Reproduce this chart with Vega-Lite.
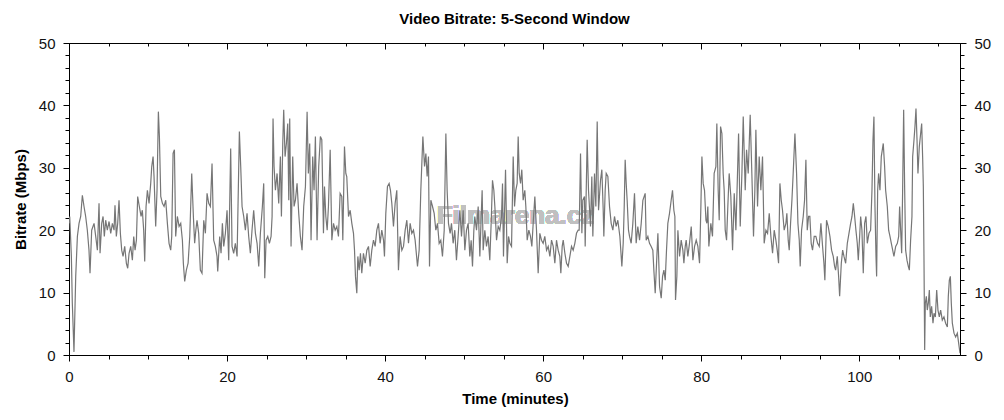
{
  "$schema": "https://vega.github.io/schema/vega-lite/v6.json",
  "width": 891,
  "height": 312,
  "autosize": "none",
  "padding": {"left": 69, "top": 43, "right": 44, "bottom": 65},
  "background": "white",
  "title": {"text": "Video Bitrate: 5-Second Window", "font": "Liberation Sans", "fontSize": 15, "fontWeight": "bold", "color": "#000000", "anchor": "middle", "offset": 9},
  "config": {
    "view": {"stroke": "#000000", "strokeWidth": 1},
    "axis": {"labelFont": "Liberation Sans", "titleFont": "Liberation Sans", "labelFontSize": 15, "titleFontSize": 15, "titleFontWeight": "bold", "labelColor": "#111111", "titleColor": "#000000", "tickColor": "#000000", "domainColor": "#000000", "grid": false}
  },
  "datasets": {
    "rate": [
      {"t":0,"b":21.1},{"t":0.09,"b":22.2},{"t":0.3,"b":15.8},{"t":0.42,"b":8.3},{"t":0.63,"b":0.5},{"t":0.85,"b":12.6},{"t":1.06,"b":19.0},{"t":1.27,"b":21.1},{"t":1.48,"b":22.2},{"t":1.69,"b":25.6},{"t":1.9,"b":23.8},{"t":2.11,"b":22.2},{"t":2.32,"b":20.0},{"t":2.53,"b":16.8},{"t":2.66,"b":13.1},{"t":2.87,"b":20.0},{"t":3.17,"b":21.1},{"t":3.38,"b":19.0},{"t":3.59,"b":16.8},{"t":3.8,"b":24.3},{"t":3.93,"b":16.3},{"t":4.14,"b":21.1},{"t":4.31,"b":22.2},{"t":4.47,"b":19.0},{"t":4.64,"b":21.6},{"t":4.85,"b":20.0},{"t":5.07,"b":21.4},{"t":5.28,"b":19.5},{"t":5.49,"b":21.1},{"t":5.7,"b":20.0},{"t":5.82,"b":24.0},{"t":5.99,"b":19.0},{"t":6.16,"b":21.1},{"t":6.33,"b":24.8},{"t":6.5,"b":19.5},{"t":6.67,"b":16.8},{"t":6.84,"b":15.8},{"t":7.05,"b":17.4},{"t":7.26,"b":14.7},{"t":7.43,"b":13.9},{"t":7.6,"b":16.3},{"t":7.81,"b":17.4},{"t":8.02,"b":15.2},{"t":8.19,"b":19.0},{"t":8.36,"b":16.8},{"t":8.53,"b":18.4},{"t":8.69,"b":25.4},{"t":8.9,"b":23.8},{"t":9.12,"b":22.2},{"t":9.28,"b":23.2},{"t":9.45,"b":20.0},{"t":9.58,"b":15.0},{"t":9.75,"b":23.8},{"t":9.92,"b":26.4},{"t":10.13,"b":24.3},{"t":10.34,"b":27.5},{"t":10.47,"b":30.2},{"t":10.64,"b":31.8},{"t":10.76,"b":28.6},{"t":10.97,"b":20.6},{"t":11.14,"b":26.4},{"t":11.31,"b":39.0},{"t":11.44,"b":35.0},{"t":11.61,"b":25.4},{"t":11.82,"b":24.3},{"t":12.03,"b":23.8},{"t":12.24,"b":24.8},{"t":12.45,"b":21.1},{"t":12.66,"b":17.9},{"t":12.87,"b":16.8},{"t":13.0,"b":19.0},{"t":13.17,"b":32.3},{"t":13.34,"b":32.9},{"t":13.5,"b":19.0},{"t":13.71,"b":22.2},{"t":13.93,"b":20.6},{"t":14.14,"b":21.1},{"t":14.35,"b":18.4},{"t":14.47,"b":14.7},{"t":14.64,"b":11.8},{"t":14.85,"b":13.6},{"t":15.07,"b":14.7},{"t":15.28,"b":19.0},{"t":15.53,"b":29.1},{"t":15.74,"b":22.2},
      {"t":15.9,"b":17.9},{"t":16.05,"b":20.0},{"t":16.2,"b":21.6},{"t":16.41,"b":19.5},{"t":16.62,"b":13.6},{"t":16.83,"b":13.1},{"t":17.05,"b":21.6},{"t":17.26,"b":19.5},{"t":17.47,"b":25.9},{"t":17.68,"b":24.3},{"t":17.89,"b":23.8},{"t":18.1,"b":30.7},{"t":18.31,"b":18.4},{"t":18.52,"b":17.4},{"t":18.73,"b":15.8},{"t":18.82,"b":13.4},{"t":19.07,"b":19.0},{"t":19.24,"b":16.3},{"t":19.41,"b":21.1},{"t":19.58,"b":17.4},{"t":19.79,"b":19.5},{"t":20.0,"b":23.2},{"t":20.21,"b":15.2},{"t":20.46,"b":33.1},{"t":20.63,"b":17.4},{"t":20.84,"b":16.3},{"t":21.05,"b":17.9},{"t":21.27,"b":15.8},{"t":21.56,"b":35.8},{"t":21.73,"b":30.2},{"t":21.9,"b":23.8},{"t":22.11,"b":22.2},{"t":22.32,"b":20.0},{"t":22.53,"b":22.7},{"t":22.74,"b":19.0},{"t":22.95,"b":16.3},{"t":23.16,"b":20.0},{"t":23.37,"b":23.2},{"t":23.59,"b":19.5},{"t":23.8,"b":17.9},{"t":24.01,"b":14.2},{"t":24.22,"b":19.5},{"t":24.47,"b":23.8},{"t":24.64,"b":27.5},{"t":24.77,"b":12.3},{"t":24.94,"b":18.4},{"t":25.15,"b":19.0},{"t":25.36,"b":17.9},{"t":25.57,"b":19.0},{"t":25.7,"b":22.2},{"t":25.82,"b":37.9},{"t":25.95,"b":30.2},{"t":26.12,"b":26.4},{"t":26.33,"b":29.1},{"t":26.54,"b":24.3},{"t":26.75,"b":31.8},{"t":26.88,"b":22.2},{"t":27.05,"b":33.9},{"t":27.17,"b":39.3},{"t":27.34,"b":31.8},{"t":27.51,"b":33.9},{"t":27.68,"b":37.1},{"t":27.81,"b":24.8},{"t":27.93,"b":37.9},{"t":28.1,"b":17.4},{"t":28.31,"b":31.8},{"t":28.48,"b":23.8},{"t":28.65,"b":24.8},{"t":28.86,"b":27.5},{"t":29.07,"b":22.7},{"t":29.28,"b":19.0},{"t":29.49,"b":16.8},{"t":29.7,"b":23.8},{"t":29.92,"b":27.0},{"t":30.13,"b":39.0},{"t":30.29,"b":29.1},{"t":30.46,"b":33.9},{"t":30.63,"b":18.4},{"t":30.84,"b":31.8},{"t":31.01,"b":26.4},{"t":31.18,"b":35.0},{"t":31.39,"b":18.4},{"t":31.6,"b":30.2},{"t":31.81,"b":35.0},{"t":31.99,"b":34.5},
      {"t":32.2,"b":19.5},{"t":32.33,"b":27.0},{"t":32.5,"b":22.2},{"t":32.67,"b":20.0},{"t":32.83,"b":23.8},{"t":33.05,"b":32.9},{"t":33.26,"b":18.4},{"t":33.47,"b":21.1},{"t":33.68,"b":20.0},{"t":33.89,"b":20.6},{"t":34.1,"b":19.0},{"t":34.31,"b":25.9},{"t":34.52,"b":25.4},{"t":34.65,"b":18.4},{"t":34.86,"b":33.4},{"t":35.03,"b":29.1},{"t":35.15,"b":28.6},{"t":35.37,"b":22.2},{"t":35.58,"b":23.2},{"t":35.79,"b":21.1},{"t":36.0,"b":19.5},{"t":36.13,"b":16.8},{"t":36.25,"b":12.6},{"t":36.42,"b":9.9},{"t":36.55,"b":15.8},{"t":36.72,"b":13.6},{"t":36.88,"b":16.3},{"t":37.05,"b":13.1},{"t":37.26,"b":16.3},{"t":37.48,"b":14.7},{"t":37.69,"b":16.8},{"t":37.9,"b":17.4},{"t":38.11,"b":14.2},{"t":38.32,"b":16.8},{"t":38.53,"b":18.4},{"t":38.74,"b":17.4},{"t":38.95,"b":20.0},{"t":39.16,"b":21.1},{"t":39.37,"b":17.9},{"t":39.58,"b":20.0},{"t":39.8,"b":18.4},{"t":39.92,"b":15.8},{"t":40.09,"b":22.7},{"t":40.3,"b":27.0},{"t":40.51,"b":27.5},{"t":40.68,"b":26.4},{"t":40.85,"b":24.3},{"t":41.06,"b":20.6},{"t":41.27,"b":24.3},{"t":41.48,"b":26.4},{"t":41.69,"b":13.6},{"t":41.9,"b":19.0},{"t":42.12,"b":16.8},{"t":42.33,"b":17.4},{"t":42.54,"b":20.0},{"t":42.75,"b":21.6},{"t":42.96,"b":17.9},{"t":43.17,"b":21.1},{"t":43.38,"b":19.5},{"t":43.59,"b":20.0},{"t":43.8,"b":18.4},{"t":44.1,"b":14.2},{"t":44.31,"b":16.8},{"t":44.52,"b":26.4},{"t":44.78,"b":35.0},{"t":44.99,"b":30.2},{"t":45.16,"b":32.3},{"t":45.32,"b":28.6},{"t":45.49,"b":31.8},{"t":45.62,"b":14.2},{"t":45.79,"b":24.8},{"t":46.0,"b":23.8},{"t":46.21,"b":22.7},{"t":46.42,"b":20.0},{"t":46.63,"b":21.1},{"t":46.84,"b":17.9},{"t":47.05,"b":18.4},{"t":47.26,"b":15.8},{"t":47.48,"b":20.0},{"t":47.69,"b":35.5},{"t":47.85,"b":26.4},{"t":48.02,"b":21.1},{"t":48.23,"b":19.5},
      {"t":48.4,"b":21.1},{"t":48.61,"b":17.9},{"t":48.82,"b":20.0},{"t":49.03,"b":15.2},{"t":49.24,"b":19.0},{"t":49.46,"b":23.2},{"t":49.67,"b":19.0},{"t":49.88,"b":23.2},{"t":50.09,"b":16.8},{"t":50.3,"b":20.0},{"t":50.51,"b":21.1},{"t":50.72,"b":15.8},{"t":50.89,"b":18.4},{"t":51.06,"b":14.2},{"t":51.23,"b":20.0},{"t":51.35,"b":22.2},{"t":51.57,"b":20.0},{"t":51.78,"b":23.8},{"t":51.99,"b":15.8},{"t":52.16,"b":22.2},{"t":52.28,"b":26.4},{"t":52.41,"b":16.8},{"t":52.62,"b":20.0},{"t":52.83,"b":17.4},{"t":53.04,"b":19.0},{"t":53.25,"b":15.2},{"t":53.42,"b":21.1},{"t":53.59,"b":28.0},{"t":53.76,"b":26.4},{"t":53.89,"b":23.8},{"t":54.1,"b":18.4},{"t":54.31,"b":20.6},{"t":54.52,"b":20.0},{"t":54.73,"b":22.2},{"t":54.86,"b":27.5},{"t":54.98,"b":15.8},{"t":55.24,"b":29.7},{"t":55.45,"b":14.7},{"t":55.62,"b":19.0},{"t":55.79,"b":17.9},{"t":56.0,"b":17.4},{"t":56.21,"b":31.8},{"t":56.38,"b":23.8},{"t":56.54,"b":26.4},{"t":56.71,"b":27.5},{"t":56.84,"b":35.0},{"t":56.97,"b":29.1},{"t":57.14,"b":27.5},{"t":57.3,"b":29.7},{"t":57.47,"b":24.8},{"t":57.68,"b":26.4},{"t":57.81,"b":23.8},{"t":57.98,"b":18.4},{"t":58.19,"b":20.0},{"t":58.4,"b":19.0},{"t":58.57,"b":17.4},{"t":58.74,"b":21.1},{"t":58.95,"b":25.4},{"t":59.16,"b":20.0},{"t":59.37,"b":13.1},{"t":59.58,"b":19.5},{"t":59.79,"b":18.4},{"t":60.0,"b":17.9},{"t":60.21,"b":19.0},{"t":60.43,"b":16.8},{"t":60.64,"b":17.4},{"t":60.85,"b":15.8},{"t":61.06,"b":18.4},{"t":61.27,"b":17.4},{"t":61.48,"b":14.7},{"t":61.69,"b":18.4},{"t":61.9,"b":16.8},{"t":62.11,"b":15.8},{"t":62.24,"b":13.1},{"t":62.41,"b":17.4},{"t":62.54,"b":18.4},{"t":62.75,"b":16.3},{"t":62.96,"b":14.7},{"t":63.17,"b":14.2},{"t":63.38,"b":15.8},{"t":63.59,"b":17.4},{"t":63.8,"b":16.8},{"t":64.01,"b":17.9},{"t":64.22,"b":19.5},{"t":64.43,"b":20.0},
      {"t":64.56,"b":20.0},{"t":64.73,"b":32.3},{"t":64.9,"b":19.5},{"t":65.02,"b":24.8},{"t":65.23,"b":25.4},{"t":65.32,"b":17.4},{"t":65.57,"b":34.5},{"t":65.74,"b":26.4},{"t":65.99,"b":20.6},{"t":66.16,"b":28.6},{"t":66.29,"b":19.0},{"t":66.5,"b":29.1},{"t":66.67,"b":23.8},{"t":66.84,"b":37.4},{"t":67.01,"b":23.2},{"t":67.26,"b":28.0},{"t":67.43,"b":29.7},{"t":67.6,"b":23.2},{"t":67.68,"b":19.0},{"t":67.85,"b":26.4},{"t":67.98,"b":29.1},{"t":68.19,"b":28.6},{"t":68.4,"b":23.8},{"t":68.61,"b":21.1},{"t":68.82,"b":20.0},{"t":69.03,"b":22.2},{"t":69.24,"b":20.6},{"t":69.45,"b":21.6},{"t":69.71,"b":19.0},{"t":69.96,"b":14.2},{"t":70.13,"b":17.9},{"t":70.26,"b":23.8},{"t":70.38,"b":31.3},{"t":70.51,"b":27.5},{"t":70.63,"b":24.8},{"t":70.8,"b":20.0},{"t":70.93,"b":19.0},{"t":71.14,"b":17.9},{"t":71.35,"b":21.1},{"t":71.56,"b":25.9},{"t":71.77,"b":17.9},{"t":71.98,"b":20.6},{"t":72.2,"b":18.4},{"t":72.41,"b":21.1},{"t":72.62,"b":24.8},{"t":72.91,"b":25.9},{"t":73.04,"b":18.4},{"t":73.25,"b":19.0},{"t":73.46,"b":17.9},{"t":73.67,"b":17.4},{"t":73.88,"b":16.8},{"t":74.01,"b":13.6},{"t":74.18,"b":9.9},{"t":74.35,"b":14.7},{"t":74.52,"b":19.5},{"t":74.73,"b":11.0},{"t":74.94,"b":9.1},{"t":75.11,"b":12.6},{"t":75.28,"b":13.6},{"t":75.45,"b":12.0},{"t":75.61,"b":16.8},{"t":75.78,"b":21.1},{"t":75.99,"b":22.7},{"t":76.2,"b":24.8},{"t":76.37,"b":26.4},{"t":76.54,"b":23.2},{"t":76.67,"b":22.2},{"t":76.75,"b":8.8},{"t":76.92,"b":12.6},{"t":77.05,"b":20.0},{"t":77.26,"b":15.8},{"t":77.47,"b":18.4},{"t":77.68,"b":16.8},{"t":77.81,"b":14.7},{"t":77.98,"b":17.4},{"t":78.1,"b":18.4},{"t":78.31,"b":15.8},{"t":78.52,"b":17.9},{"t":78.74,"b":20.6},{"t":78.95,"b":15.2},{"t":79.16,"b":17.4},{"t":79.37,"b":18.4},{"t":79.58,"b":17.4},{"t":79.79,"b":14.7},{"t":79.96,"b":23.8},{"t":80.09,"b":31.8},{"t":80.25,"b":27.5},{"t":80.42,"b":26.4},{"t":80.6,"b":21.6},
      {"t":80.72,"b":21.1},{"t":80.84,"b":23.8},{"t":80.97,"b":17.4},{"t":81.22,"b":21.1},{"t":81.43,"b":19.0},{"t":81.64,"b":29.1},{"t":81.86,"b":30.2},{"t":81.98,"b":37.1},{"t":82.15,"b":26.4},{"t":82.28,"b":21.6},{"t":82.45,"b":36.6},{"t":82.62,"b":35.5},{"t":82.78,"b":29.1},{"t":82.91,"b":26.4},{"t":83.04,"b":20.0},{"t":83.21,"b":18.4},{"t":83.37,"b":23.8},{"t":83.54,"b":29.1},{"t":83.75,"b":25.4},{"t":83.97,"b":16.8},{"t":84.18,"b":25.9},{"t":84.39,"b":20.0},{"t":84.56,"b":27.5},{"t":84.73,"b":35.5},{"t":84.94,"b":20.6},{"t":85.15,"b":29.1},{"t":85.32,"b":38.2},{"t":85.48,"b":30.7},{"t":85.57,"b":26.4},{"t":85.74,"b":32.9},{"t":85.95,"b":29.1},{"t":86.2,"b":38.5},{"t":86.41,"b":29.1},{"t":86.62,"b":19.0},{"t":86.79,"b":26.4},{"t":86.92,"b":36.1},{"t":87.13,"b":23.8},{"t":87.34,"b":31.8},{"t":87.55,"b":26.4},{"t":87.76,"b":31.8},{"t":87.97,"b":17.9},{"t":88.19,"b":20.0},{"t":88.4,"b":19.5},{"t":88.61,"b":22.7},{"t":88.82,"b":19.0},{"t":89.03,"b":16.3},{"t":89.24,"b":20.0},{"t":89.45,"b":18.4},{"t":89.62,"b":16.8},{"t":89.79,"b":14.7},{"t":89.96,"b":27.5},{"t":90.13,"b":24.8},{"t":90.29,"b":23.2},{"t":90.5,"b":20.0},{"t":90.72,"b":21.1},{"t":90.84,"b":22.7},{"t":91.01,"b":18.4},{"t":91.14,"b":16.8},{"t":91.31,"b":21.1},{"t":91.48,"b":24.8},{"t":91.64,"b":29.1},{"t":91.86,"b":35.5},{"t":92.07,"b":29.1},{"t":92.24,"b":21.1},{"t":92.41,"b":18.4},{"t":92.53,"b":14.2},{"t":92.7,"b":20.0},{"t":92.91,"b":22.2},{"t":93.08,"b":24.8},{"t":93.25,"b":31.3},{"t":93.42,"b":20.0},{"t":93.59,"b":22.2},{"t":93.75,"b":22.2},{"t":93.92,"b":17.9},{"t":94.09,"b":16.8},{"t":94.3,"b":19.0},{"t":94.51,"b":19.0},{"t":94.73,"b":17.9},{"t":94.94,"b":17.4},{"t":95.15,"b":21.1},{"t":95.36,"b":17.4},{"t":95.53,"b":14.7},{"t":95.65,"b":12.0},{"t":95.86,"b":21.6},{"t":96.07,"b":20.6},{"t":96.29,"b":19.0},{"t":96.5,"b":16.8},{"t":96.71,"b":15.8},{"t":96.88,"b":14.2},
      {"t":97.01,"b":13.6},{"t":97.22,"b":15.8},{"t":97.39,"b":12.6},{"t":97.52,"b":9.4},{"t":97.73,"b":14.7},{"t":97.9,"b":16.8},{"t":98.07,"b":15.8},{"t":98.28,"b":14.7},{"t":98.49,"b":17.9},{"t":98.7,"b":19.5},{"t":98.91,"b":21.1},{"t":99.08,"b":22.2},{"t":99.25,"b":24.3},{"t":99.42,"b":22.2},{"t":99.58,"b":20.0},{"t":99.75,"b":17.9},{"t":99.88,"b":15.2},{"t":100.05,"b":19.0},{"t":100.18,"b":22.2},{"t":100.34,"b":20.0},{"t":100.51,"b":13.1},{"t":100.68,"b":21.1},{"t":100.85,"b":22.2},{"t":101.02,"b":17.9},{"t":101.23,"b":19.5},{"t":101.44,"b":20.0},{"t":101.61,"b":26.4},{"t":101.74,"b":34.5},{"t":101.86,"b":38.2},{"t":101.99,"b":23.8},{"t":102.12,"b":15.8},{"t":102.2,"b":12.6},{"t":102.33,"b":26.4},{"t":102.45,"b":29.1},{"t":102.62,"b":26.4},{"t":102.79,"b":31.8},{"t":103.04,"b":33.9},{"t":103.21,"b":30.2},{"t":103.34,"b":26.4},{"t":103.55,"b":23.8},{"t":103.72,"b":20.0},{"t":103.89,"b":19.0},{"t":104.06,"b":17.9},{"t":104.23,"b":16.8},{"t":104.39,"b":15.8},{"t":104.61,"b":17.4},{"t":104.82,"b":17.9},{"t":104.99,"b":19.0},{"t":105.11,"b":23.8},{"t":105.24,"b":20.0},{"t":105.37,"b":16.3},{"t":105.49,"b":26.4},{"t":105.62,"b":39.3},{"t":105.75,"b":26.4},{"t":105.87,"b":16.8},{"t":106.04,"b":15.2},{"t":106.21,"b":14.2},{"t":106.34,"b":13.6},{"t":106.5,"b":18.4},{"t":106.67,"b":22.2},{"t":106.76,"b":31.8},{"t":106.93,"b":34.5},{"t":107.05,"b":36.6},{"t":107.18,"b":39.5},{"t":107.31,"b":34.5},{"t":107.43,"b":29.1},{"t":107.6,"b":33.4},{"t":107.77,"b":35.5},{"t":107.9,"b":37.1},{"t":108.02,"b":31.8},{"t":108.11,"b":27.0},{"t":108.19,"b":15.8},{"t":108.28,"b":0.8},{"t":108.36,"b":8.3},{"t":108.49,"b":9.4},{"t":108.61,"b":7.2},{"t":108.74,"b":8.3},{"t":108.87,"b":10.4},{"t":108.99,"b":6.1},{"t":109.16,"b":7.8},{"t":109.33,"b":5.1},{"t":109.46,"b":6.7},{"t":109.63,"b":6.1},{"t":109.8,"b":10.4},{"t":109.96,"b":7.2},{"t":110.13,"b":6.1},{"t":110.3,"b":7.2},{"t":110.51,"b":5.6},{"t":110.72,"b":6.1},{"t":110.93,"b":5.1},{"t":111.15,"b":4.5},{"t":111.27,"b":9.4},{"t":111.4,"b":12.0},{"t":111.53,"b":12.6},{"t":111.65,"b":8.3},{"t":111.78,"b":5.1},{"t":111.99,"b":3.5},{"t":112.2,"b":2.9},{"t":112.41,"b":3.5},{"t":112.58,"b":1.9},{"t":112.75,"b":0.3}
    ]
  },
  "data": {"name": "rate"},
  "layer": [
    {
      "mark": {"type": "text", "text": "Filmarena.cz", "font": "Liberation Sans", "fontSize": 26, "fontWeight": "bold", "color": "#c0c0c0", "opacity": 0.6},
      "encoding": {
        "x": {"datum": 56.5, "type": "quantitative", "scale": {"domain": [0, 112.75], "nice": false, "zero": false}, "axis": null},
        "y": {"datum": 22.3, "type": "quantitative", "scale": {"domain": [0, 50], "nice": false}, "axis": null}
      }
    },
    {
      "mark": {"type": "line", "color": "#767676", "strokeWidth": 1.2, "clip": true},
      "encoding": {
        "x": {"field": "t", "type": "quantitative", "title": "Time (minutes)",
          "axis": {"orient": "bottom", "values": [0,5,10,15,20,25,30,35,40,45,50,55,60,65,70,75,80,85,90,95,100,105,110],
            "labelExpr": "datum.value % 20 === 0 ? datum.label : ''",
            "tickSize": {"condition": {"test": "datum.value % 20 === 0", "value": 6}, "value": 4},
            "labelPadding": 8, "labelFlush": false, "labelOverlap": false, "titleX": 446, "titleY": 43, "titleBaseline": "middle"}},
        "y": {"field": "b", "type": "quantitative", "title": "Bitrate (Mbps)",
          "axis": {"orient": "left", "values": [0,2,4,6,8,10,12,14,16,18,20,22,24,26,28,30,32,34,36,38,40,42,44,46,48,50],
            "labelExpr": "datum.value % 10 === 0 ? datum.label : ''",
            "tickSize": {"condition": {"test": "datum.value % 10 === 0", "value": 6}, "value": 4},
            "labelPadding": 8, "labelFlush": false, "labelOverlap": false, "titleX": -49, "titleY": 156, "titleBaseline": "middle"}}
      }
    },
    {
      "mark": {"type": "line", "strokeOpacity": 0},
      "encoding": {
        "x": {"field": "t", "type": "quantitative",
          "axis": {"orient": "top", "title": null, "labels": false, "values": [0,5,10,15,20,25,30,35,40,45,50,55,60,65,70,75,80,85,90,95,100,105,110],
            "tickSize": {"condition": {"test": "datum.value % 20 === 0", "value": -6}, "value": -3}}},
        "y": {"field": "b", "type": "quantitative",
          "axis": {"orient": "right", "title": null, "values": [0,2,4,6,8,10,12,14,16,18,20,22,24,26,28,30,32,34,36,38,40,42,44,46,48,50],
            "labelExpr": "datum.value % 10 === 0 ? datum.label : ''",
            "tickSize": {"condition": {"test": "datum.value % 10 === 0", "value": 6}, "value": 4},
            "labelPadding": 8, "labelFlush": false, "labelOverlap": false}}
      }
    }
  ],
  "resolve": {"axis": {"x": "independent", "y": "independent"}}
}
